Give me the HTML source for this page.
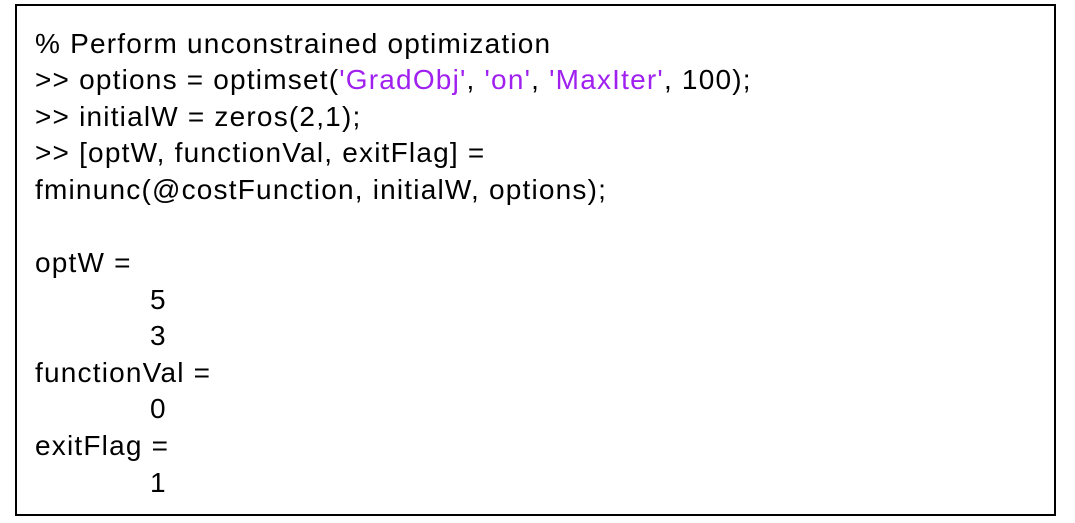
<!DOCTYPE html>
<html><head><style>
html,body{margin:0;padding:0;background:#fff;width:1075px;height:523px;overflow:hidden}
.box{position:absolute;left:15px;top:4px;width:1041px;height:512px;border:2px solid #000;box-sizing:border-box}
.t{position:absolute;left:35px;top:25.5px;font-family:"Liberation Sans",sans-serif;font-size:28px;letter-spacing:1.2px;line-height:36.6px;color:#000;white-space:pre}
.p{color:#a020f0}
</style></head><body>
<div class="box"></div>
<div class="t">% Perform unconstrained optimization
&gt;&gt; options = optimset(<span class="p">'GradObj'</span>, <span class="p">'on'</span>, <span class="p">'MaxIter'</span>, 100);
&gt;&gt; initialW = zeros(2,1);
&gt;&gt; [optW, functionVal, exitFlag] =
fminunc(@costFunction, initialW, options);

optW =
<span style="padding-left:115px">5</span>
<span style="padding-left:115px">3</span>
functionVal =
<span style="padding-left:115px">0</span>
exitFlag =
<span style="padding-left:115px">1</span></div>
</body></html>
